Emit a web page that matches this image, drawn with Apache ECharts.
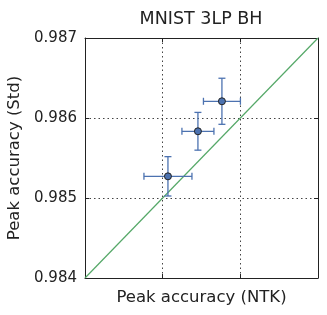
<!DOCTYPE html>
<html><head><meta charset="utf-8">
<script src="https://cdn.jsdelivr.net/npm/echarts@6/dist/echarts.min.js"></script>
<style>html,body{margin:0;padding:0;background:#fff}#c{width:327px;height:315px}</style>
</head><body><div id="c"></div>
<script>
const xNTK = [0.985068, 0.985454, 0.985763];
const yStd = [0.985271, 0.985834, 0.986209];
const xErr = [0.000309, 0.000206, 0.000238];
const yErr = [0.000246, 0.000236, 0.000288];
const diagonal = [[0.984, 0.984], [0.987, 0.987]];
const axisMin = 0.984, axisMax = 0.987, axisStep = 0.001;

const errData = xNTK.map((x, i) => [x, yStd[i], xErr[i], yErr[i]]);
const ptData = xNTK.map((x, i) => [x, yStd[i]]);
const FONT = 'DejaVu Sans';
const chart = echarts.init(document.getElementById('c'));
const axisCommon = {
  type: 'value', min: axisMin, max: axisMax, interval: axisStep,
  axisLine: {show: true, lineStyle: {color: '#222', width: 1}},
  axisTick: {show: true, inside: true, length: 4, lineStyle: {color: '#222'}},
};
const errStyle = {stroke: '#4c72b0', lineWidth: 1.3};
chart.setOption({
  animation: false,
  title: {text: 'MNIST 3LP BH', left: 196, top: 5, textAlign: 'center',
    textStyle: {fontFamily: FONT, fontSize: 17.5, fontWeight: 'normal', color: '#222'}},
  grid: {left: 85, right: 9, top: 38, bottom: 37, show: false, outerBoundsMode: 'none', containLabel: false},
  xAxis: [
    Object.assign({}, axisCommon, {position: 'bottom',
      name: 'Peak accuracy (NTK)', nameLocation: 'middle', nameGap: 11,
      nameTextStyle: {fontFamily: FONT, fontSize: 16.5, color: '#222'},
      axisLabel: {show: false},
      splitLine: {show: true, lineStyle: {color: '#444', type: [1.5, 3], width: 1}}}),
    Object.assign({}, axisCommon, {position: 'top', axisLabel: {show: false}, splitLine: {show: false}})
  ],
  yAxis: [
    Object.assign({}, axisCommon, {position: 'left',
      name: 'Peak accuracy (Std)', nameLocation: 'middle', nameGap: 56,
      nameTextStyle: {fontFamily: FONT, fontSize: 16.5, color: '#222'},
      axisLabel: {fontFamily: FONT, fontSize: 15, color: '#222', margin: 8,
        formatter: v => v.toFixed(3)},
      splitLine: {show: true, lineStyle: {color: '#444', type: [1.5, 3], width: 1}}}),
    Object.assign({}, axisCommon, {position: 'right', axisLabel: {show: false}, splitLine: {show: false}})
  ],
  series: [
    {type: 'line', data: diagonal, symbol: 'none', silent: true,
      lineStyle: {color: '#55a868', width: 1.2}, z: 2},
    {type: 'custom', z: 3,
      renderItem: function (params, api) {
        const x = api.value(0), y = api.value(1), ex = api.value(2), ey = api.value(3);
        const l = api.coord([x - ex, y]), r = api.coord([x + ex, y]);
        const b = api.coord([x, y - ey]), t = api.coord([x, y + ey]);
        const cap = 3.5;
        return {type: 'group', children: [
          {type: 'line', shape: {x1: l[0], y1: l[1], x2: r[0], y2: r[1]}, style: errStyle},
          {type: 'line', shape: {x1: l[0], y1: l[1] - cap, x2: l[0], y2: l[1] + cap}, style: errStyle},
          {type: 'line', shape: {x1: r[0], y1: r[1] - cap, x2: r[0], y2: r[1] + cap}, style: errStyle},
          {type: 'line', shape: {x1: b[0], y1: b[1], x2: t[0], y2: t[1]}, style: errStyle},
          {type: 'line', shape: {x1: b[0] - cap, y1: b[1], x2: b[0] + cap, y2: b[1]}, style: errStyle},
          {type: 'line', shape: {x1: t[0] - cap, y1: t[1], x2: t[0] + cap, y2: t[1]}, style: errStyle}
        ]};
      },
      data: errData},
    {type: 'scatter', data: ptData, symbolSize: 7, z: 4,
      itemStyle: {color: '#4c72b0', borderColor: '#222', borderWidth: 1, opacity: 1}}
  ]
});
</script></body></html>
